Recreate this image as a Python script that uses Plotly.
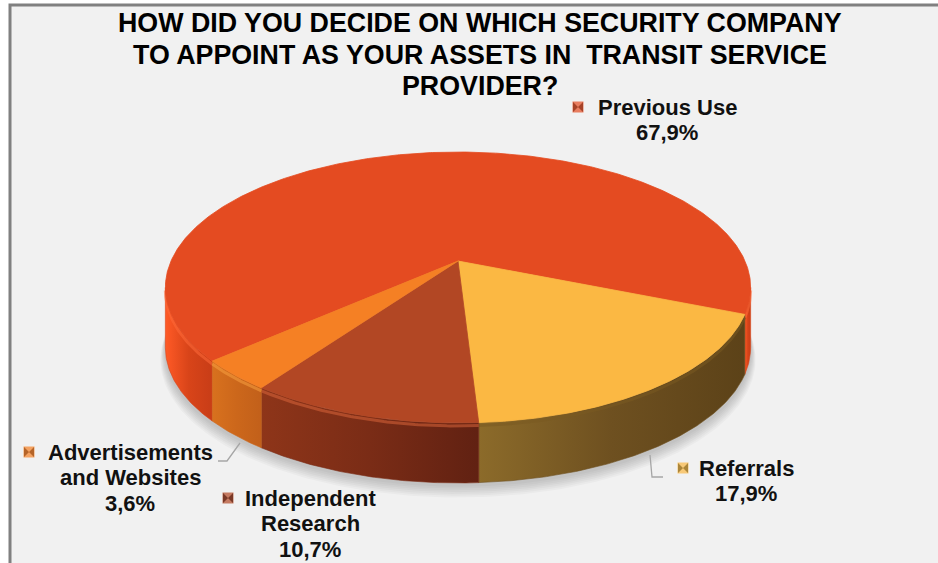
import numpy as np
import plotly.graph_objects as go

# ---- data -------------------------------------------------------------
categories = ["Previous Use", "Referrals", "Independent Research",
              "Advertisements and Websites"]
shares = [67.9, 17.9, 10.7, 3.6]
share_labels = ["67,9%", "17,9%", "10,7%", "3,6%"]
label_lines = [["Previous Use"], ["Referrals"], ["Independent", "Research"],
               ["Advertisements", "and Websites"]]
title_lines = ["HOW DID YOU DECIDE ON WHICH SECURITY COMPANY",
               "TO APPOINT AS YOUR ASSETS IN\u00a0 TRANSIT SERVICE",
               "PROVIDER?"]

# ---- style ------------------------------------------------------------
W, H = 938, 563
BG = "#F1F1F1"
FONT = "Liberation Sans, Arial, sans-serif"
top_colors = ["#E44B21", "#FBB843", "#B24724", "#F58024"]
side_grad = [
    ["#FF5A26", "#D84419", "#C83D17"],   # previous use
    ["#8C6B2A", "#6E5020", "#5C4218"],   # referrals
    ["#8E3519", "#7A2C16", "#612112"],   # independent research
    ["#D8711E", "#CC671B", "#C2601A"],   # advertisements
]
rim_colors = ["#FF6A3A", "#7A5A22", "#D8643A", "#F9A040"]
key_dark = ["#8A2A10", "#8C6A20", "#5A1E0E", "#9A4A10"]

# tilted-disc projection (centre of the disc maps to the apex)
CX, CY = 458.0, 261.0
RX, RY = 287.0, 130.3
PERSP = -0.1955
DEPTH = 60.0
START = 138.1          # screen angle where the first slice starts (deg)


def rim(theta_deg, drop=0.0, grow=0.0):
    t = np.radians(np.asarray(theta_deg, dtype=float))
    u, v = np.cos(t), np.sin(t)
    den = 1.0 + PERSP * v
    x = CX + (RX + grow) * u / den
    y = CY + (RY + grow * 0.45) * v / den + drop
    return x, y


# silhouette angles of the projected rim (left/right extremes)
grid = np.linspace(0, 360, 36001)
gx, _ = rim(grid)
TH_R = grid[np.argmax(gx)]
TH_L = grid[np.argmin(gx)]
if TH_R > 180:
    TH_R -= 360

fracs = np.array(shares) / np.sum(shares)
bounds = START + 360.0 * np.concatenate([[0], np.cumsum(fracs)])

fig = go.Figure()

# soft shadow under the disc
full = np.linspace(0, 360, 361)
for i in range(7, 0, -1):
    sx, sy = rim(full, drop=DEPTH + 2 + 1.4 * i, grow=0.7 * i)
    fig.add_trace(go.Scatter(x=sx, y=sy, mode="lines", fill="toself",
                             fillcolor="rgba(0,0,0,0.026)", line=dict(width=0),
                             hoverinfo="skip", showlegend=False))

# side walls (front part only)
for i, (a, b) in enumerate(zip(bounds[:-1], bounds[1:])):
    for n in (-1, 0, 1, 2):
        lo = max(a, TH_R + 360 * n)
        hi = min(b, TH_L + 360 * n)
        if hi - lo <= 0.05:
            continue
        th = np.linspace(lo, hi, max(int((hi - lo) * 2), 4))
        tx, ty = rim(th)
        bx, by = rim(th[::-1], drop=DEPTH)
        xs = np.concatenate([tx, bx, tx[:1]])
        ys = np.concatenate([ty, by, ty[:1]])
        cols = side_grad[i]
        fig.add_trace(go.Scatter(
            x=xs, y=ys, mode="lines", fill="toself",
            fillgradient=dict(type="horizontal",
                              colorscale=[[0, cols[0]], [0.5, cols[1]], [1, cols[2]]]),
            line=dict(width=0.6, color=cols[1]),
            hoverinfo="skip", showlegend=False))
        # light bevel just under the top rim
        hx, hy = rim(th, drop=3.0)
        fig.add_trace(go.Scatter(x=hx, y=hy, mode="lines",
                                 line=dict(width=3, color=rim_colors[i]),
                                 opacity=0.55, hoverinfo="skip", showlegend=False))

# top faces
for i, (a, b) in enumerate(zip(bounds[:-1], bounds[1:])):
    th = np.linspace(a, b, max(int((b - a) * 2), 4))
    ax_, ay_ = rim(th)
    xs = np.concatenate([[CX], ax_, [CX]])
    ys = np.concatenate([[CY], ay_, [CY]])
    fig.add_trace(go.Scatter(x=xs, y=ys, mode="lines", fill="toself",
                             fillcolor=top_colors[i],
                             line=dict(width=0.8, color=top_colors[i]),
                             name=categories[i], hoverinfo="name",
                             showlegend=False))

# ---- data labels ------------------------------------------------------
# (name-line centre x, first-line y, key x)
label_pos = [(667, 107, 578), (746, 468, 683), (310, 498, 228), (130, 452, 29)]
LINE = 25.5
annotations = []
for i, (lx, ly, kx) in enumerate(label_pos):
    lines = label_lines[i] + [share_labels[i]]
    for j, txt in enumerate(lines):
        annotations.append(dict(
            x=lx, y=ly + j * LINE, xref="x", yref="y", text=txt,
            showarrow=False, xanchor="center", yanchor="middle",
            font=dict(family=FONT, size=22, color="#111111", weight=700)))
    fig.add_trace(go.Scatter(
        x=[kx, kx], y=[ly, ly], mode="markers",
        marker=dict(symbol=["square", "bowtie"], size=[11, 10],
                    color=[top_colors[i], key_dark[i]], line=dict(width=0)),
        hoverinfo="skip", showlegend=False))

for j, txt in enumerate(title_lines):
    annotations.append(dict(
        x=480, y=23 + j * 31.5, xref="x", yref="y", text=txt,
        showarrow=False, xanchor="center", yanchor="middle",
        font=dict(family=FONT, size=26.8, color="#000000", weight=700)))

shapes = [
    dict(type="rect", xref="x", yref="y", x0=10, y0=5, x1=W + 20, y1=H + 20,
         fillcolor=BG, line=dict(color="#808080", width=3), layer="below"),
    # leader lines
    dict(type="path", xref="x", yref="y", path="M 218 461 L 227 461 L 240 443",
         line=dict(color="#A6A6A6", width=1.3), layer="above"),
    dict(type="path", xref="x", yref="y", path="M 650 455 L 652 477 L 663 477",
         line=dict(color="#A6A6A6", width=1.3), layer="above"),
]

fig.update_layout(
    width=W, height=H, autosize=False,
    margin=dict(l=0, r=0, t=0, b=0),
    paper_bgcolor="#FFFFFF", plot_bgcolor="rgba(0,0,0,0)",
    xaxis=dict(range=[0, W], visible=False, fixedrange=True),
    yaxis=dict(range=[H, 0], visible=False, fixedrange=True),
    annotations=annotations, shapes=shapes, showlegend=False,
)

fig.write_html("out.html")
